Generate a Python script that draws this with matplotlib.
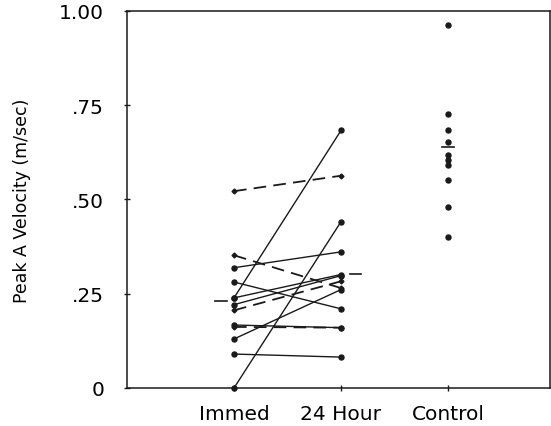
import matplotlib.pyplot as plt

# paired values per patient: immediate vs. 24 hour
immed = [0.522, 0.352, 0.206, 0.162,
         0.319, 0.281, 0.239, 0.239, 0.221, 0.167, 0.130, 0.090, 0.0]
hour24 = [0.563, 0.265, 0.283, 0.160,
          0.361, 0.210, 0.683, 0.301, 0.298, 0.160, 0.261, 0.082, 0.441]
dashed = [True, True, True, True,
          False, False, False, False, False, False, False, False, False]

control = [0.964, 0.726, 0.684, 0.652, 0.618, 0.605, 0.592, 0.551, 0.481, 0.401]

group_labels = ['Immed', '24 Hour', 'Control']
group_means = [0.232, 0.303, 0.638]

yticks = [0, 0.25, 0.50, 0.75, 1.00]
ytick_labels = ['0', '.25', '.50', '.75', '1.00']

ink = '#1a1a1a'

fig = plt.figure(figsize=(5.51, 4.27), dpi=100)
ax = fig.add_axes([0.2305, 0.089, 0.767, 0.883])

for a, b, d in zip(immed, hour24, dashed):
    if d:
        ax.plot([1, 2], [a, b], color=ink, lw=1.3, ls=(0, (7, 4)),
                marker='D', ms=2.5, clip_on=False)
    else:
        ax.plot([1, 2], [a, b], color=ink, lw=1.0, marker='o', ms=3.6,
                clip_on=False)

ax.plot([3] * len(control), control, 'o', color=ink, ms=3.6, clip_on=False)

# group means as short horizontal bars beside each column
ax.plot([0.82, 0.93], [group_means[0]] * 2, color=ink, lw=1.2)
ax.plot([2.08, 2.19], [group_means[1]] * 2, color=ink, lw=1.2)
ax.plot([2.94, 3.06], [group_means[2]] * 2, color=ink, lw=1.2)

ax.set_xlim(0.0, 3.95)
ax.set_ylim(0, 1.0)
ax.set_xticks([1, 2, 3])
ax.set_xticklabels(group_labels, fontsize=14.5)
ax.set_yticks(yticks)
ax.set_yticklabels(ytick_labels, fontsize=14.5)
ax.tick_params(direction='inout', length=5, width=1, color=ink, pad=9)
ax.tick_params(axis='y', pad=14)
ax.set_ylabel('Peak A Velocity (m/sec)', fontsize=12.5, labelpad=20)

for s in ax.spines.values():
    s.set_color(ink)
    s.set_linewidth(1.1)

fig.savefig('out.png', dpi=100)
